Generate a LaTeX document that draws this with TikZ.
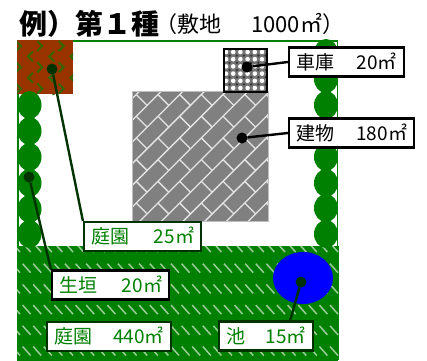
\documentclass[tikz,border=0pt]{standalone}
\usepackage{fontspec}
\usepackage{xcolor}
\setmainfont{Noto Sans CJK JP}
\usetikzlibrary{calc}
\definecolor{hedgegreen}{HTML}{008000}
\definecolor{linegreen}{HTML}{003300}
\definecolor{soilbrown}{HTML}{993300}
\definecolor{sproutgreen}{HTML}{336600}
\definecolor{roofgray}{HTML}{808080}
\newcommand{\arealabel}[2]{#1\hfill #2}
\tikzset{
	dotmark/.style={circle, inner sep=0pt, minimum size=11pt, fill=#1},
	areabox/.style={draw=#1, fill=white, line width=2.2pt, inner sep=0pt, minimum height=29pt, font=\fontsize{19}{19}\selectfont},
	hedge/.style={fill=hedgegreen},
	leader/.style={line width=2.4pt, draw=#1}
}
\begin{document}
\begin{tikzpicture}[x=1pt, y=-1pt]
  \useasboundingbox (0,0) rectangle (427,360);

  \node[anchor=base west, inner sep=0pt, font=\fontsize{28}{28}\selectfont\bfseries] (titlemain) at (19,34) {例）第１種};
  \node[anchor=base west, inner sep=0pt, font=\fontsize{22}{22}\selectfont] (titlesub) at (155,32) {（敷地\hspace{30pt}1000㎡）};

  \draw[hedgegreen, line width=1.6pt] (18,41) rectangle (337.5,360);

  \fill[hedgegreen] (17,246) rectangle (339,360);
  \begin{scope}
    \clip (17,246) rectangle (339,360);
    \foreach \row in {0,...,5}
      \foreach \col in {-15,...,15}
        \draw[white!60!hedgegreen, line width=1.5pt] ({175+10.6*\col-4},{247.5+20.7*\row-4.5}) -- ++(8,9);
  \end{scope}

  \fill[soilbrown] (17,40) rectangle (73,94);
  \begin{scope}
    \clip (17,40) rectangle (73,94);
    \foreach \row in {0,...,2}
      \foreach \col in {0,...,2} {
        \draw[sproutgreen, line width=2pt] ({16+21.3*\col},{41+21.3*\row}) -- ++(5,5) -- ++(-5,5);
        \draw[sproutgreen, line width=2pt] ({33+21.3*\col},{51.5+21.3*\row}) -- ++(-5,5) -- ++(5,5);
      }
  \end{scope}

  \foreach \y in {105,131,157,183,209,234}
    \fill[hedge] (29.5,\y) ellipse (12 and 14);
  \foreach \y in {53,79,105,131,157,183,208,234}
    \fill[hedge] (326,\y) ellipse (12 and 14);

  \fill[roofgray] (132,91) rectangle (268,221);
  \begin{scope}
    \clip (132,91) rectangle (268,221);
    \foreach \lane in {-2,...,12} {
      \draw[white!80!roofgray, line width=1.3pt] let \n1={252.5+21.7*\lane} in ({\n1/2-100},{\n1/2+100}) -- ++(300,-300);
      \foreach \brick in {-12,...,6}
        \draw[white!80!roofgray, line width=1.3pt] let \n1={252.5+21.7*\lane}, \n2={63.4+43.4*\brick+21.7*\lane} in
          ({(\n1+\n2)/2},{(\n1-\n2)/2}) -- ++(10.85,10.85);
    }
  \end{scope}
  \draw[black!25, line width=1pt] (132,91) rectangle (268,221);

  \fill[black!55] (224,49) rectangle (267,92);
  \begin{scope}
    \clip (224,49) rectangle (267,92);
    \foreach \row in {0,...,6}
      \foreach \col in {0,...,6} {
        \fill[white] ({226+7.2*\col},{52+7.2*\row}) circle (2.3);
        \fill[black!80] ({229.6+7.2*\col},{55.6+7.2*\row}) circle (1.3);
      }
  \end{scope}
  \draw[black, line width=2pt] (224,49) rectangle (267,92);

  \fill[blue] (303,278) ellipse (30 and 26);

  \node[dotmark=black] (garagedot) at (247,67) {};
  \node[dotmark=black] (housedot) at (242,138) {};
  \node[dotmark=linegreen] (plotdot) at (52,69) {};
  \node[dotmark=linegreen] (hedgedot) at (29,177) {};
  \node[dotmark=linegreen] (ponddot) at (301,282) {};

  \node[areabox=black, text width=101pt, minimum width=115pt] (garagebox) at (346.5,62) {\arealabel{車庫}{20㎡}};
  \node[areabox=black, text width=111pt, minimum width=125pt] (housebox) at (351.5,133) {\arealabel{建物}{180㎡}};
  \node[areabox=linegreen, text width=103pt, minimum width=117pt, text=hedgegreen] (plotbox) at (142.5,236.5) {\arealabel{庭園}{25㎡}};
  \node[areabox=black, text width=103pt, minimum width=117pt, text=hedgegreen] (hedgebox) at (110.5,285) {\arealabel{生垣}{20㎡}};
  \node[areabox=linegreen, text width=110pt, minimum width=124pt, text=hedgegreen] (lawnbox) at (109,336.5) {\arealabel{庭園}{440㎡}};
  \node[areabox=linegreen, text width=80pt, minimum width=94pt, text=hedgegreen] (pondbox) at (266,336) {\arealabel{池}{15㎡}};
  \coordinate (pondfoot) at (290,321);

  \draw[leader=black] (garagedot) -- (garagebox.west);
  \draw[leader=black] (housedot) -- (housebox.west);
  \draw[leader=linegreen] (plotdot) -- (plotbox.north west);
  \draw[leader=linegreen] (hedgedot) -- (hedgebox.north west);
  \draw[leader=linegreen] (ponddot) -- (pondfoot);
\end{tikzpicture}
\end{document}
